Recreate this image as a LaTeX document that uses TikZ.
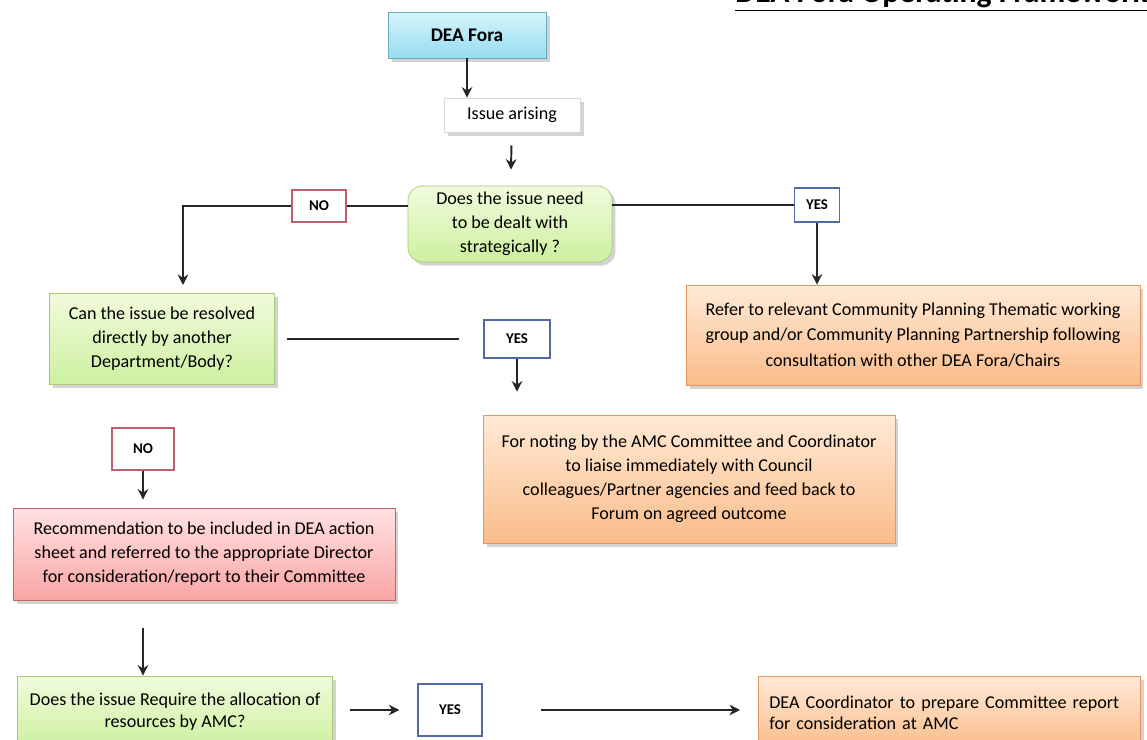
\documentclass[tikz,border=0pt]{standalone}
\usepackage{fontspec}
\setmainfont{Carlito}
\usetikzlibrary{arrows.meta,shadows}
\definecolor{foratop}{RGB}{215,245,252}
\definecolor{forabot}{RGB}{150,220,240}
\definecolor{foraline}{RGB}{110,170,190}
\definecolor{greentop}{RGB}{240,251,220}
\definecolor{greenbot}{RGB}{205,240,160}
\definecolor{greenline}{RGB}{170,200,120}
\definecolor{orangetop}{RGB}{255,234,214}
\definecolor{orangebot}{RGB}{250,188,138}
\definecolor{orangeline}{RGB}{225,150,100}
\definecolor{redtop}{RGB}{255,226,226}
\definecolor{redbot}{RGB}{250,165,165}
\definecolor{redline}{RGB}{195,100,105}
\definecolor{noline}{RGB}{190,95,105}
\definecolor{yesline}{RGB}{80,105,165}

\begin{document}
\begin{tikzpicture}[x=0.02cm,y=-0.02cm,
    every node/.style={font=\fontsize{10.3}{13.6}\selectfont,align=center,inner sep=2pt},
    shade/.style={drop shadow={shadow xshift=2pt,shadow yshift=-2pt,opacity=0.35}},
    greenbox/.style={shade,draw=greenline,top color=greentop,bottom color=greenbot},
    orangebox/.style={shade,draw=orangeline,top color=orangetop,bottom color=orangebot},
    redbox/.style={shade,draw=redline,top color=redtop,bottom color=redbot},
    nobox/.style={draw=noline,fill=white,thick,font=\bfseries\fontsize{8.5}{10}\selectfont},
    yesbox/.style={draw=yesline,fill=white,thick,font=\bfseries\fontsize{8.5}{10}\selectfont}]
\useasboundingbox (0,0) rectangle (1147,740);
\clip (0,0) rectangle (1147,740);

\node[anchor=base west,inner sep=0pt,font=\bfseries\fontsize{18}{20}\selectfont] (title) at (735,3) {\underline{DEA Fora Operating Framework}};

\node[shade,draw=foraline,top color=foratop,bottom color=forabot,
      minimum width=3.16cm,minimum height=0.92cm,font=\bfseries\fontsize{11}{13}\selectfont] (fora) at (467,35) {DEA Fora};
\node[shade,draw=white!85!black,fill=white,minimum width=2.72cm,minimum height=0.68cm] (issue) at (512,115) {Issue arising};
\node[greenbox,rounded corners=8pt,minimum width=4.08cm,minimum height=1.52cm] (strat) at (510,224)
    {Does the issue need\\to be dealt with\\strategically ?};
\node[nobox,minimum width=1.08cm,minimum height=0.64cm] (no1) at (319,206) {NO};
\node[yesbox,minimum width=0.9cm,minimum height=0.68cm] (yes1) at (817,205) {YES};
\node[orangebox,minimum width=9.08cm,minimum height=2cm,font=\fontsize{10.3}{14.6}\selectfont] (refer) at (913,335)
    {Refer to relevant Community Planning Thematic working\\group and/or Community Planning Partnership following\\consultation with other DEA Fora/Chairs};
\node[greenbox,minimum width=4.5cm,minimum height=1.82cm] (resolve) at (162,339)
    {Can the issue be resolved\\directly by another\\Department/Body?};
\node[yesbox,minimum width=1.32cm,minimum height=0.76cm] (yes2) at (517,339) {YES};
\node[orangebox,minimum width=8.24cm,minimum height=2.56cm] (noting) at (689,479)
    {For noting by the AMC Committee and Coordinator\\to liaise immediately with Council\\colleagues/Partner agencies and feed back to\\Forum on agreed outcome};
\node[nobox,minimum width=1.24cm,minimum height=0.84cm] (no2) at (143,449) {NO};
\node[redbox,minimum width=7.64cm,minimum height=1.84cm] (recom) at (204,554)
    {Recommendation to be included in DEA action\\sheet and referred to the appropriate Director\\for consideration/report to their Committee};
\node[greenbox,minimum width=6.3cm,minimum height=1.44cm,font=\fontsize{10.3}{12.4}\selectfont] (require) at (175,712)
    {Does the issue Require the allocation of\\resources by AMC?};
\node[yesbox,minimum width=1.28cm,minimum height=1.04cm] (yes3) at (450,710) {YES};
\node[orangebox,minimum width=7.64cm,minimum height=1.46cm,text width=7.2cm,align=left,
      anchor=north west,font=\fontsize{10.3}{12.4}\selectfont] (coord) at (758,676)
    {DEA Coordinator to prepare Committee report\\for consideration at AMC\\[8pt]};

\coordinate (n1) at (183,285);
\coordinate (d1) at (143,628);

\begin{scope}[>={Stealth[length=6pt,width=6pt]},line width=1.1pt,black!85]
    \path [->] (fora) edge (fora |- issue.north);
    \path [->] (issue) edge[shorten <=0.26cm,shorten >=0.32cm] (strat);
    \draw (strat.west |- no1) -- (no1.east);
    \draw [->] (no1.west) -| (n1);
    \draw (strat.east |- yes1) -- (yes1.west);
    \path [->] (yes1) edge (yes1 |- refer.north);
    \path [-] (resolve.east) edge[shorten <=0.24cm,shorten >=0.48cm] (yes2.west);
    \path [->] (yes2) edge[shorten >=0.46cm] (yes2 |- noting.north);
    \path [->] (no2) edge[shorten >=0.16cm] (no2 |- recom.north);
    \path [->] (d1) edge (d1 |- require.north) ;
    \path [->] (require.east |- yes3) edge[shorten <=0.34cm,shorten >=0.36cm] (yes3.west);
    \path [->] (yes3.east) edge[shorten <=1.16cm,shorten >=0.36cm] (yes3 -| coord.west);
\end{scope}
\end{tikzpicture}
\end{document}
